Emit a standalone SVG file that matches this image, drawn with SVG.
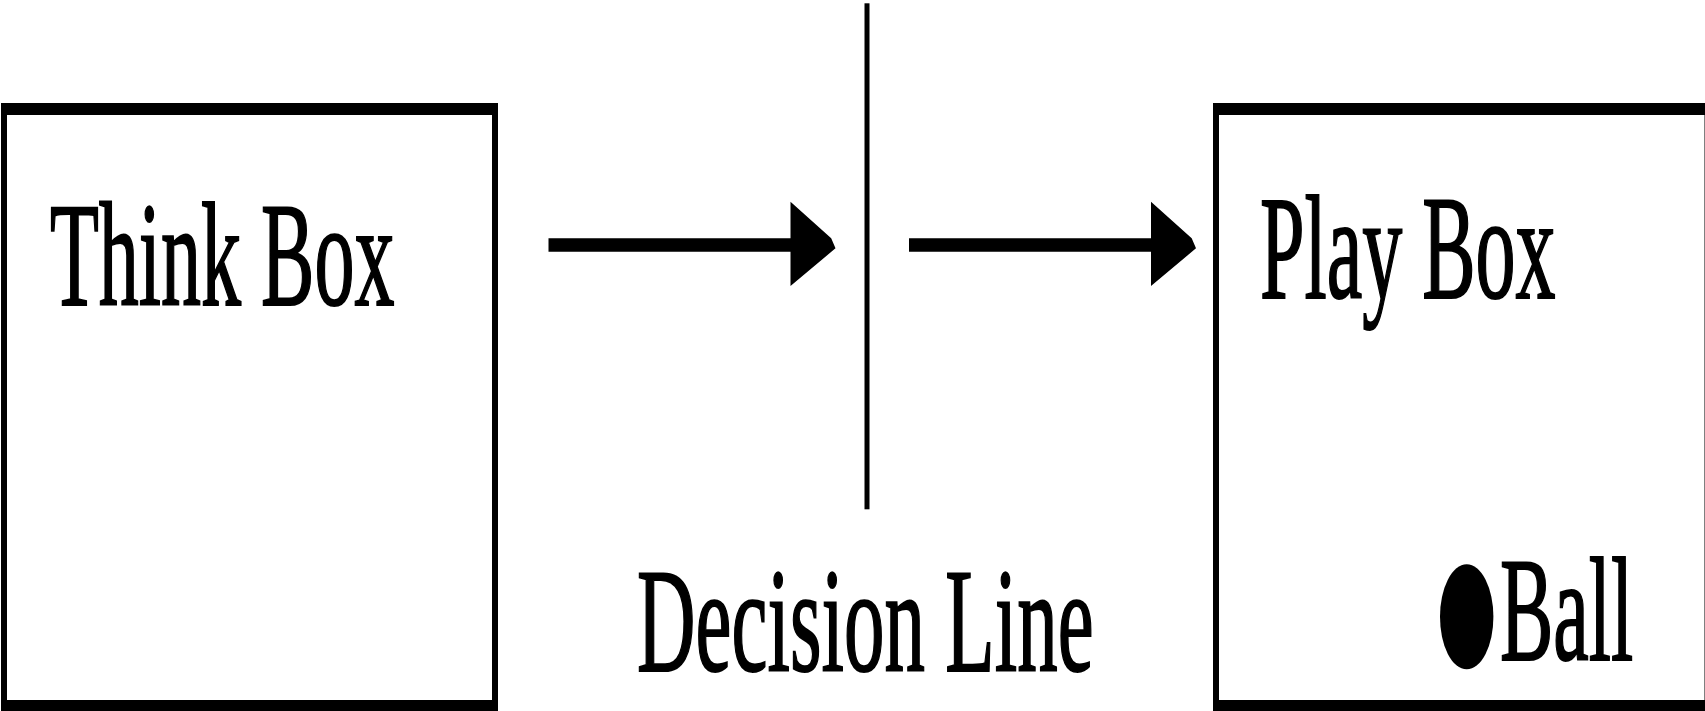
<svg xmlns="http://www.w3.org/2000/svg" width="1705" height="711" viewBox="0 0 1705 711">
  <style>
    .frame { fill: #000; fill-rule: evenodd; }
    .lbl { font-family: "Liberation Serif", "Times New Roman", serif; font-size: 80px; fill: #000; stroke: #000; stroke-width: 1.1px; }
    .conn { fill: #000; }
  </style>
  <defs>
    <path id="arrow" d="M0,-6.7 H242 V-43.3 L282.7,-6.7 L287,3.3 L242,41 V6.7 H0 Z"/>
  </defs>
  <rect width="1705" height="711" fill="#fff"/>

  <g id="think-box">
    <path class="frame" d="M1,103 H498 V716 H1 Z M7,115 V700 H492 V115 Z"/>
    <text class="lbl" transform="translate(50,305) scale(1,1.85)">Think Box</text>
  </g>

  <g id="decision-line">
    <rect x="864.5" y="3.3" width="5" height="506" fill="#000"/>
    <text class="lbl" transform="translate(637,670.7) scale(1,1.83)" style="font-size:81px">Decision Line</text>
  </g>

  <g id="play-box">
    <path class="frame" d="M1213,103 H1712 V716 H1213 Z M1219,115 V700 H1704.5 V115 Z"/>
    <text class="lbl" transform="translate(1260,298.3) scale(1,1.85)">Play Box</text>
  </g>

  <g id="ball">
    <ellipse cx="1466.7" cy="616.8" rx="26.7" ry="52.5" fill="#000"/>
    <text class="lbl" transform="translate(1500,660) scale(1,1.85)">Ball</text>
  </g>

  <g id="connectors">
    <use href="#arrow" class="conn" x="548.5" y="245"/>
    <use href="#arrow" class="conn" x="909" y="245"/>
  </g>
</svg>
